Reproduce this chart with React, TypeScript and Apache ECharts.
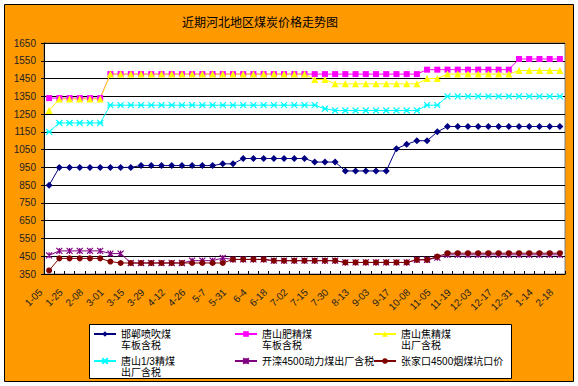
import React, { useEffect, useRef } from "react";
import * as echarts from "echarts";

const titleText = "近期河北地区煤炭价格走势图";

const tickLabels = [
  "1-05", "1-25", "2-08", "3-01", "3-15", "3-29", "4-12", "4-26", "5-7", "5-31",
  "6-4", "6-18", "7-02", "7-15", "7-30", "8-13", "9-03", "9-17", "10-08", "11-05",
  "11-19", "12-03", "12-17", "12-31", "1-14", "2-18",
];

const seriesNames = [
  "邯郸喷吹煤\n车板含税",
  "唐山肥精煤\n车板含税",
  "唐山焦精煤\n出厂含税",
  "唐山1/3精煤\n出厂含税",
  "开滦4500动力煤出厂含税",
  "张家口4500烟煤坑口价",
];

const handanPenchui = [
  850, 950, 950, 950, 950, 950, 950, 950, 950, 960,
  960, 960, 960, 960, 960, 960, 960, 970, 970, 1000,
  1000, 1000, 1000, 1000, 1000, 1000, 980, 980, 980, 930,
  930, 930, 930, 930, 1055, 1080, 1100, 1100, 1150, 1180,
  1180, 1180, 1180, 1180, 1180, 1180, 1180, 1180, 1180, 1180, 1180,
];

const tangshanFei = [
  1340, 1340, 1340, 1340, 1340, 1340, 1475, 1475, 1475, 1475,
  1475, 1475, 1475, 1475, 1475, 1475, 1475, 1475, 1475, 1475,
  1475, 1475, 1475, 1475, 1475, 1475, 1475, 1475, 1475, 1475,
  1475, 1475, 1475, 1475, 1475, 1475, 1475, 1500, 1500, 1500,
  1500, 1500, 1500, 1500, 1500, 1500, 1560, 1560, 1560, 1560, 1560,
];

const tangshanJiao = [
  1270, 1335, 1335, 1335, 1335, 1335, 1475, 1475, 1475, 1475,
  1475, 1475, 1475, 1475, 1475, 1475, 1475, 1475, 1475, 1475,
  1475, 1475, 1475, 1475, 1475, 1475, 1445, 1445, 1420, 1420,
  1420, 1420, 1420, 1420, 1420, 1420, 1420, 1450, 1450, 1475,
  1475, 1475, 1475, 1475, 1475, 1475, 1495, 1495, 1495, 1495, 1495,
];

const tangshanOneThird = [
  1150, 1200, 1200, 1200, 1200, 1200, 1300, 1300, 1300, 1300,
  1300, 1300, 1300, 1300, 1300, 1300, 1300, 1300, 1300, 1300,
  1300, 1300, 1300, 1300, 1300, 1300, 1300, 1280, 1270, 1270,
  1270, 1270, 1270, 1270, 1270, 1270, 1270, 1300, 1300, 1350,
  1350, 1350, 1350, 1350, 1350, 1350, 1350, 1350, 1350, 1350, 1350,
];

const kailuan4500 = [
  455, 480, 480, 480, 480, 480, 465, 465, 412, 412,
  412, 412, 412, 412, 425, 425, 425, 440, 432, 432,
  432, 432, 425, 425, 425, 425, 425, 425, 425, 415,
  415, 415, 415, 415, 415, 415, 430, 430, 442, 458,
  458, 458, 458, 458, 458, 458, 458, 458, 458, 458, 458,
];

const zhangjiakou4500 = [
  370, 438, 438, 438, 438, 438, 420, 412, 412, 412,
  412, 412, 412, 412, 412, 412, 412, 412, 432, 432,
  432, 432, 425, 425, 425, 425, 425, 425, 425, 415,
  415, 415, 415, 415, 415, 415, 430, 430, 448, 467,
  467, 467, 467, 467, 467, 467, 467, 467, 467, 467, 467,
];

const categories = handanPenchui.map((_, i) => (i % 2 === 0 ? tickLabels[i / 2] : ""));

const colors = ["#000080", "#FF00FF", "#FFFF00", "#00FFFF", "#800080", "#800000"];
const symbols = [
  "diamond",
  "rect",
  "triangle",
  "path://M0,0L10,10M10,0L0,10M0,5L10,5",
  "path://M0,0L10,10M10,0L0,10M5,0L5,10",
  "circle",
];
const symbolSizes = [7, 6, 7, 6, 6, 6];
const allData = [handanPenchui, tangshanFei, tangshanJiao, tangshanOneThird, kailuan4500, zhangjiakou4500];

const FONT = "'Liberation Sans', 'Noto Sans CJK SC', sans-serif";

export default function App() {
  const ref = useRef<HTMLDivElement>(null);

  useEffect(() => {
    document.body.style.margin = "0";
    if (!ref.current) return;
    const chart = echarts.init(ref.current, undefined, { renderer: "svg" });

    const legendPos = [
      { left: 93, icy: 334, two: true },
      { left: 234, icy: 334, two: true },
      { left: 373, icy: 334, two: true },
      { left: 93, icy: 361, two: true },
      { left: 234, icy: 361, two: false },
      { left: 373, icy: 361, two: false },
    ];

    const legends = seriesNames.map((name, i) => {
      const p = legendPos[i];
      return {
        data: [name],
        left: p.left,
        top: p.two ? p.icy - 16.5 : p.icy - 5.5,
        padding: 0,
        itemWidth: 22,
        itemHeight: 7,
        selectedMode: false,
        formatter: (n: string) => (p.two ? "\n" + n : n),
        textStyle: {
          fontSize: 10,
          lineHeight: 11,
          color: "#000",
          fontFamily: FONT,
        },
      };
    });

    const option: any = {
      animation: false,
      backgroundColor: "#ffffff",
      textStyle: { fontFamily: FONT },
      title: {
        text: titleText,
        left: 182,
        top: 15,
        padding: 0,
        textStyle: { fontSize: 12, fontWeight: "normal", color: "#000", fontFamily: "'Noto Sans CJK SC', sans-serif" },
      },
      graphic: [
        {
          type: "rect",
          z: -10,
          silent: true,
          shape: { x: 4.5, y: 4.5, width: 569, height: 377 },
          style: { fill: "#FF9900", stroke: "#000", lineWidth: 1 },
        },
        {
          type: "rect",
          z: 0,
          silent: true,
          shape: { x: 89.5, y: 324.5, width: 422, height: 54 },
          style: { fill: "#fff", stroke: "#000", lineWidth: 1 },
        },
      ],
      legend: legends,
      grid: {
        left: 44,
        top: 43,
        width: 521,
        height: 231,
        show: true,
        backgroundColor: "#fff",
        borderColor: "#808080",
        borderWidth: 1,
      },
      xAxis: {
        type: "category",
        data: categories,
        boundaryGap: true,
        axisLine: { lineStyle: { color: "#000", width: 1 } },
        axisTick: { show: true, inside: true, length: 3, interval: 0, lineStyle: { color: "#000" } },
        axisLabel: {
          interval: 1,
          rotate: 45,
          margin: 8,
          padding: [0, 12, 0, 0],
          fontSize: 10,
          color: "#222",
          fontFamily: FONT,
        },
      },
      yAxis: {
        type: "value",
        min: 350,
        max: 1650,
        interval: 100,
        axisLine: { show: true, lineStyle: { color: "#000", width: 1 } },
        axisTick: { show: true, length: 3, lineStyle: { color: "#000" } },
        axisLabel: {
          fontSize: 10,
          color: "#222",
          margin: 8,
          fontFamily: FONT,
          formatter: (v: number) => String(v),
        },
        splitLine: { show: true, lineStyle: { color: "#000", width: 1 } },
      },
      series: seriesNames.map((name, i) => ({
        name,
        type: "line",
        data: allData[i],
        symbol: symbols[i],
        symbolSize: symbolSizes[i],
        showAllSymbol: true,
        lineStyle: { color: colors[i], width: 1 },
        itemStyle: {
          color: colors[i],
          borderColor: colors[i],
          borderWidth: i === 3 || i === 4 ? 1.2 : 0,
        },
        emphasis: { disabled: true },
      })),
    };

    chart.setOption(option);
    return () => chart.dispose();
  }, []);

  return <div ref={ref} style={{ width: 578, height: 386 }} />;
}
